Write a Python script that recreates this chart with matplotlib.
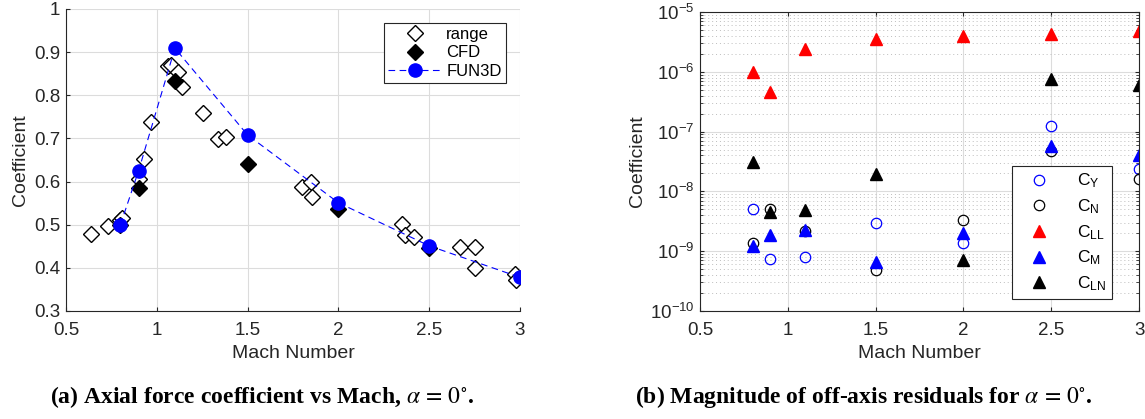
import numpy as np
import matplotlib
matplotlib.use('Agg')
import matplotlib.pyplot as plt
from matplotlib.ticker import LogLocator, NullFormatter

# ---- data (a): axial force coefficient ----
range_mach = [0.64, 0.73, 0.80, 0.81, 0.90, 0.93, 0.97, 1.06, 1.08, 1.115, 1.137,
              1.256, 1.34, 1.38, 1.80, 1.847, 1.856, 2.352, 2.367, 2.418,
              2.67, 2.752, 2.752, 2.973, 2.978]
range_ca = [0.479, 0.497, 0.51, 0.515, 0.606, 0.652, 0.739, 0.867, 0.871, 0.853, 0.820,
            0.759, 0.698, 0.704, 0.588, 0.598, 0.565, 0.501, 0.476, 0.472,
            0.448, 0.449, 0.399, 0.386, 0.372]
cfd_mach = [0.8, 0.9, 1.1, 1.5, 2.0, 2.5]
cfd_ca = [0.50, 0.585, 0.833, 0.640, 0.537, 0.445]
fun3d_mach = [0.8, 0.9, 1.1, 1.5, 2.0, 2.5, 3.0]
fun3d_ca = [0.500, 0.625, 0.909, 0.708, 0.551, 0.451, 0.378]

# ---- data (b): off-axis residuals ----
res_mach = [0.8, 0.9, 1.1, 1.5, 2.0, 2.5, 3.0]
c_y = [5.0e-9, 7.3e-10, 7.9e-10, 3.0e-9, 1.39e-9, 1.26e-7, 2.4e-8]
c_n = [1.35e-9, 5.0e-9, 2.15e-9, 4.9e-10, 3.3e-9, 4.8e-8, 1.6e-8]
c_ll = [1.0e-6, 4.6e-7, 2.4e-6, 3.5e-6, 4.0e-6, 4.3e-6, 4.9e-6]
c_m = [1.2e-9, 1.9e-9, 2.3e-9, 6.7e-10, 2.0e-9, 5.8e-8, 4.1e-8]
c_ln = [3.1e-8, 4.6e-9, 4.8e-9, 1.95e-8, 7.1e-10, 7.6e-7, 6.0e-7]

tick_labels = ['0.5', '1', '1.5', '2', '2.5', '3']

plt.rcParams['font.family'] = ['Liberation Sans', 'DejaVu Sans']
plt.rcParams['mathtext.fontset'] = 'custom'
plt.rcParams['mathtext.rm'] = 'Liberation Sans'
plt.rcParams['mathtext.it'] = 'Liberation Sans'
axcol = '#262626'
gridcol = '#dcdcdc'
tick_fs = 13.5
label_fs = 14

fig = plt.figure(figsize=(11.45, 4.19), dpi=100)

# ---------- left panel ----------
ax1 = fig.add_axes([0.0576, 0.2578, 0.3965, 0.7208])
ax1.plot(range_mach, range_ca, 'D', ms=8.5, mfc='white', mec='black', mew=1.0,
         ls='none', label='range')
ax1.plot(cfd_mach, cfd_ca, 'D', ms=8.5, mfc='black', mec='black', ls='none', label='CFD')
ax1.plot(fun3d_mach, fun3d_ca, '--', color='blue', lw=0.8, dashes=(6, 4),
         marker='o', ms=9.5, mfc='blue', mec='blue', label='FUN3D')
ax1.set_xlim(0.5, 3)
ax1.set_ylim(0.3, 1.0)
ax1.set_xticks(np.arange(0.5, 3.01, 0.5))
ax1.set_xticklabels(tick_labels)
ax1.set_yticks(np.arange(0.3, 1.01, 0.1))
ax1.set_yticklabels(['0.3', '0.4', '0.5', '0.6', '0.7', '0.8', '0.9', '1'])
ax1.grid(True, color=gridcol, lw=0.8)
ax1.set_axisbelow(True)
for s in ['top', 'right']:
    ax1.spines[s].set_visible(False)
for s in ['left', 'bottom']:
    ax1.spines[s].set_color(axcol)
    ax1.spines[s].set_linewidth(0.8)
ax1.tick_params(direction='in', colors=axcol, length=3, labelsize=tick_fs, pad=4)
ax1.tick_params(axis='x', pad=8)
ax1.set_xlabel('Mach Number', fontsize=label_fs, color=axcol, labelpad=4)
ax1.set_ylabel('Coefficient', fontsize=label_fs, color=axcol, labelpad=4)
leg1 = ax1.legend(loc='upper right', bbox_to_anchor=(0.969, 0.954), borderaxespad=0,
                  numpoints=1, handlelength=3.2, fancybox=False, edgecolor=axcol,
                  framealpha=1, fontsize=12, borderpad=0.25, labelspacing=0.2,
                  handletextpad=0.3)
leg1.get_frame().set_linewidth(0.8)

# ---------- right panel ----------
ax2 = fig.add_axes([0.6114, 0.2578, 0.3834, 0.7136])
ax2.plot(res_mach, c_y, 'o', ms=7.5, mfc='none', mec='blue', mew=0.9, ls='none',
         label=r'C$_{\mathrm{Y}}$')
ax2.plot(res_mach, c_n, 'o', ms=7.5, mfc='none', mec='black', mew=0.9, ls='none',
         label=r'C$_{\mathrm{N}}$')
ax2.plot(res_mach, c_ll, '^', ms=8.5, color='red', ls='none', label=r'C$_{\mathrm{LL}}$')
ax2.plot(res_mach, c_m, '^', ms=8.5, color='blue', ls='none', label=r'C$_{\mathrm{M}}$')
ax2.plot(res_mach, c_ln, '^', ms=8.5, color='black', ls='none', label=r'C$_{\mathrm{LN}}$')
ax2.set_yscale('log')
ax2.set_xlim(0.5, 3)
ax2.set_ylim(1e-10, 1e-5)
ax2.set_xticks(np.arange(0.5, 3.01, 0.5))
ax2.set_xticklabels(tick_labels)
ax2.yaxis.set_major_locator(LogLocator(base=10, numticks=10))
ax2.yaxis.set_minor_locator(LogLocator(base=10, subs=np.arange(2, 10), numticks=20))
ax2.yaxis.set_minor_formatter(NullFormatter())
ax2.grid(True, which='major', color=gridcol, lw=0.8)
ax2.grid(True, which='minor', axis='y', color='#bdbdbd', lw=0.7, ls=(0, (1, 3)))
ax2.set_axisbelow(True)
for s in ax2.spines.values():
    s.set_color(axcol)
    s.set_linewidth(0.8)
ax2.tick_params(which='both', direction='in', colors=axcol, top=True, right=True,
                labelsize=tick_fs, pad=4)
ax2.tick_params(axis='x', pad=8)
ax2.tick_params(which='major', length=3)
ax2.tick_params(which='minor', length=2)
ax2.set_xlabel('Mach Number', fontsize=label_fs, color=axcol, labelpad=4)
ax2.set_ylabel('Coefficient', fontsize=label_fs, color=axcol, labelpad=3)
leg2 = ax2.legend(loc='lower right', bbox_to_anchor=(0.9385, 0.04), borderaxespad=0,
                  numpoints=1, handlelength=2.5, fancybox=False, edgecolor=axcol,
                  framealpha=1, fontsize=12.5, borderpad=0.35, labelspacing=0.4,
                  handletextpad=0.9)
leg2.get_frame().set_linewidth(0.8)

# ---------- captions ----------
plt.rcParams['mathtext.fontset'] = 'stix'
cap_kw = dict(ha='center', va='center', fontsize=17, fontweight='bold',
              family=['Liberation Serif', 'DejaVu Serif'])
fig.text(262 / 1145, 1 - 397 / 419,
         r'(a) Axial force coefficient vs Mach, $\alpha\,=\,0^{\circ}$.', **cap_kw)
fig.text(864 / 1145, 1 - 397 / 419,
         r'(b) Magnitude of off-axis residuals for $\alpha\,=\,0^{\circ}$.', **cap_kw)

fig.savefig('out.png', dpi=100)
